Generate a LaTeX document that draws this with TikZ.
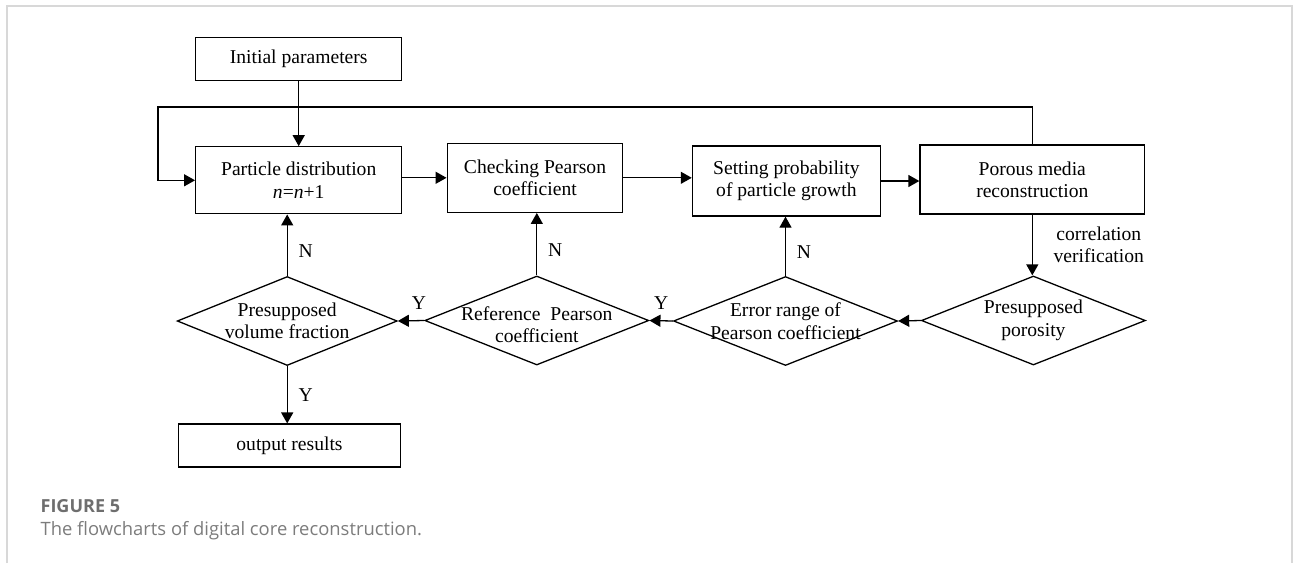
\documentclass[tikz,border=0pt]{standalone}
\usepackage{fontspec}
\setmainfont{Liberation Serif}
\newfontfamily\capfont{Open Sans}
\usetikzlibrary{arrows.meta,positioning,shapes.geometric}
\definecolor{framegray}{HTML}{D8D8D8}
\definecolor{figgray}{HTML}{6E6E6E}
\definecolor{capgray}{HTML}{7C7C7C}

\begin{document}
\begin{tikzpicture}[x=0.5pt,y=-0.5pt,->,>={Triangle[length=5.5pt,width=6pt]},line width=0.65pt,
    box/.style={rectangle,draw,align=center,font=\fontsize{9.8}{11.2}\selectfont},
    decision/.style={diamond,draw,inner sep=0pt,minimum width=112pt,minimum height=44.5pt},
    dtext/.style={align=center,font=\fontsize{9.8}{11.2}\selectfont},
    yn/.style={font=\fontsize{9.8}{11.2}\selectfont}]

        \useasboundingbox (0,0) rectangle (1293,563);

        % Define boxes
        \node[box,minimum width=103pt,minimum height=21.5pt] (init) at (298.7,59.2) {Initial parameters};
        \node[box,minimum width=103pt,minimum height=33.5pt] (part) at (298.7,180.3) {Particle distribution\\\textit{n}=\textit{n}+1};
        \node[box,minimum width=87.8pt,minimum height=34.5pt] (check) at (535,177.8) {Checking Pearson\\coefficient};
        \node[box,minimum width=94pt,minimum height=35pt] (grow) at (786.4,181) {Setting probability\\of particle growth};
        \node[box,minimum width=112.3pt,minimum height=34.5pt] (porous) at (1032.3,179.5) {Porous media\\reconstruction};

        % Define decisions
        \node[decision,minimum width=110pt,label={[dtext]center:Presupposed\\volume fraction}] (vol) at (287.2,321) {};
        \node[decision,label={[dtext,yshift=-2pt]center:Reference\ \ Pearson\\coefficient}] (ref) at (536.8,320.5) {};
        \node[decision,label={[dtext]center:Error range of\\Pearson coefficient}] (err) at (785.5,321) {};
        \node[decision,label={[dtext]center:Presupposed\\porosity}] (poro) at (1033.4,320.5) {};
        \node[box,minimum width=111pt,minimum height=21.5pt] (out) at (289.5,445.6) {output results};

        % Draw edges
        \coordinate (loop) at (158,107);
        \draw (init) -- (part);
        \draw (porous.north) |- (loop) |- (part.west);
        \draw (part.east |- check.west) -- (check.west);
        \draw (check.east) -- (check.east -| grow.west);
        \draw (grow.east) -- (grow.east -| porous.west);
        \draw (porous.south) -- node[yn,align=center,right,xshift=7pt] {correlation\\verification} (porous.south |- poro.north);
        \draw (poro.west) -- (err.east);
        \draw (err.west) -- node[yn,above,yshift=2pt] {Y} (ref.east);
        \draw (ref.west) -- node[yn,above,yshift=2pt,pos=0.2] {Y} (vol.east);
        \draw (err.north) -- node[yn,right,xshift=2pt,pos=0.4] {N} (err.north |- grow.south);
        \draw (ref.north) -- node[yn,right,xshift=2pt,pos=0.4] {N} (ref.north |- check.south);
        \draw (vol.north) -- node[yn,right,xshift=2pt,pos=0.4] {N} (vol.north |- part.south);
        \draw (vol.south) -- node[yn,right,xshift=2pt] {Y} (vol.south |- out.north);

        % Caption
        \draw[-,framegray,line width=0.9pt] (7,563) -- (7,6) -- (1292,6) -- (1292,563);
        \node[anchor=base west,inner sep=0pt,text=figgray,font=\capfont\bfseries\fontsize{9}{11}\selectfont] (fig) at (40,512) {FIGURE 5};
        \node[anchor=base west,inner sep=0pt,text=capgray,font=\capfont\fontsize{9.2}{11}\selectfont] (caption) at (40,535) {The flowcharts of digital core reconstruction.};

\end{tikzpicture}
\end{document}
